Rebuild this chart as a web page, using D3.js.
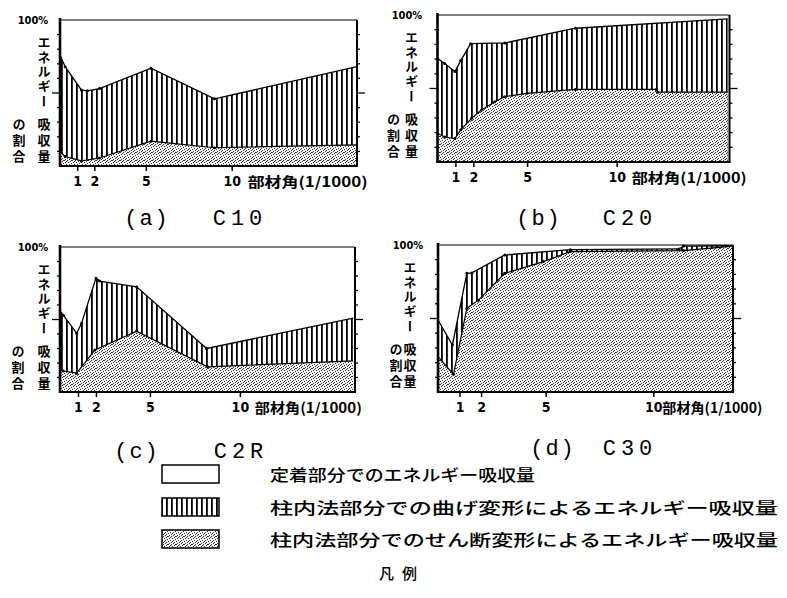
<!DOCTYPE html>
<html><head><meta charset="utf-8">
<script src="https://cdn.jsdelivr.net/npm/d3@7"></script>
<style>body{margin:0;background:#fff}svg{display:block}</style>
</head><body>
<svg id="chart" width="787" height="598"></svg>
<script>
// ---------------- data ----------------
const specimens   = ["C10", "C20", "C2R", "C30"];
const panelTags   = ["(a)", "(b)", "(c)", "(d)"];
const xTickValues = [1, 2, 5, 10];
const yTickValues = [0, 10, 20, 30, 40, 50, 60, 70, 80, 90, 100];
const xAxisTitle  = "部材角(1/1000)";
const yTopLabel   = "100%";
const yTitleParts = ["エネルギー", "吸収量", "の割合"];
const legendLabels = [
  "定着部分でのエネルギー吸収量",
  "柱内法部分での曲げ変形によるエネルギー吸収量",
  "柱内法部分でのせん断変形によるエネルギー吸収量"
];
const legendTitle = "凡例";
const xMax = [17.3, 16.3, 16.4, 13.7];

// top of bending band (shear + bending), % of total energy
const c10TotalX = [0, 0.3, 1.25, 1.6, 2.3, 5.3, 9.0, 17.3];
const c10Total  = [76, 68, 52, 51.5, 53, 67, 46, 68];
// top of shear band, %
const c10ShearX = [0, 0.3, 1.25, 2.3, 5.3, 9.0, 17.3];
const c10Shear  = [10, 6.5, 3.5, 5.5, 17, 12.5, 14.5];

const c20TotalX = [0, 0.4, 0.97, 1.3, 1.85, 3.75, 7.7, 16.2];
const c20Total  = [70.5, 67, 61.5, 69, 80.5, 81, 91, 97.3];
const c20ShearX = [0, 0.4, 0.97, 1.3, 1.9, 2.45, 3.2, 3.75, 5.0, 7.7, 12.2, 12.3, 16.2];
const c20Shear  = [19.5, 17, 16, 22, 29.7, 35.4, 41, 44.4, 46.7, 49.4, 49.4, 47.5, 47.5];

const c2rTotalX = [0, 0.18, 0.93, 1.2, 2.0, 2.2, 4.26, 8.15, 16.3];
const c2rTotal  = [56, 53, 40.5, 47.5, 78.5, 76.5, 72.5, 30, 51];
const c2rShearX = [0, 0.18, 0.93, 1.94, 4.26, 8.2, 16.3];
const c2rShear  = [15, 14.5, 13, 29, 42, 17.4, 21.4];

const c30TotalX = [0, 0.67, 1.34, 1.57, 3.1, 6.14, 11.2, 11.4, 13.7];
const c30Total  = [49, 32, 80.7, 81, 93.2, 96.8, 97.3, 99.3, 99.5];
const c30ShearX = [0, 0.72, 1.34, 1.88, 3.1, 4.9, 6.14, 11.4, 13.7];
const c30Shear  = [24, 12, 57, 62.5, 80.7, 88.7, 95.5, 96.2, 99.3];

const seriesTable = [
  {tx: c10TotalX, t: c10Total, sx: c10ShearX, s: c10Shear},
  {tx: c20TotalX, t: c20Total, sx: c20ShearX, s: c20Shear},
  {tx: c2rTotalX, t: c2rTotal, sx: c2rShearX, s: c2rShear},
  {tx: c30TotalX, t: c30Total, sx: c30ShearX, s: c30Shear}
];

// ---------------- layout ----------------
const frames = [
  {l: 60,    r: 357,   t: 20,  b: 166, yl: -16, ys: -41, pct: 33,  tag: 147, name: 240, tb: 225, xt: 16, xtl: 120},
  {l: 437.5, r: 729.5, t: 15,  b: 162, yl: -26, ys: -44, pct: 407, tag: 539, name: 630, tb: 225, xt: 15, xtl: 115},
  {l: 60,    r: 355,   t: 247, b: 392, yl: -16, ys: -42, pct: 33,  tag: 137, name: 241, tb: 458, xt: 15, xtl: 107},
  {l: 438,   r: 733,   t: 245, b: 392, yl: -28, ys: -42, pct: 408, tag: 553, name: 630, tb: 455, xt: 9,  xtl: 100}
];
// [column (0 = main, 1 = sub), first-char centre offset from frame top, pitch]
const yTitleLayout = [[0, 22, 14.75], [0, 104, 16], [1, 104, 16]];

const svg = d3.select("#chart");
const defs = svg.append("defs");
const hatch = defs.append("pattern").attr("id", "hatch").attr("patternUnits", "userSpaceOnUse")
  .attr("width", 5).attr("height", 10);
hatch.append("rect").attr("width", 5).attr("height", 10).attr("fill", "#fff");
hatch.append("rect").attr("x", 1).attr("width", 1.8).attr("height", 10).attr("fill", "#000");

const stip = defs.append("pattern").attr("id", "stip").attr("patternUnits", "userSpaceOnUse")
  .attr("width", 8).attr("height", 8);
stip.append("rect").attr("width", 8).attr("height", 8).attr("fill", "#f4f4f4");
[[0,0],[3,0],[6,1],[1,2],[4,2],[7,3],[2,4],[5,4],[0,5],[3,6],[6,6],[1,7],[5,7],[7,0],[4,5],[2,1]].forEach(p =>
  stip.append("rect").attr("x", p[0]).attr("y", p[1]).attr("width", 1).attr("height", 1).attr("fill", "#333"));

const cjk = "'Noto Sans CJK JP', 'Noto Sans CJK SC', sans-serif";
const FS = 13;

frames.forEach((f, i) => {
  const g = svg.append("g");
  const x = d3.scaleLinear().domain([0, xMax[i]]).range([f.l, f.r]);
  const y = d3.scaleLinear().domain([0, 100]).range([f.b, f.t]);
  const S = seriesTable[i];
  const tot = S.tx.map((v, k) => [v, S.t[k]]);
  const sh  = S.sx.map((v, k) => [v, S.s[k]]);
  const area = d3.area().x(d => x(d[0])).y0(y(0)).y1(d => y(d[1]));
  const line = d3.line().x(d => x(d[0])).y(d => y(d[1]));

  g.append("path").attr("d", area(tot)).attr("fill", "url(#hatch)");
  g.append("path").attr("d", area(sh)).attr("fill", "url(#stip)");
  g.append("path").attr("d", line(tot)).attr("fill", "none").attr("stroke", "#000").attr("stroke-width", 1.3);
  g.append("path").attr("d", line(sh)).attr("fill", "none").attr("stroke", "#000").attr("stroke-width", 1.2);
  g.selectAll(".pt").data(tot.slice(1, -1).concat(sh.slice(1, -1))).join("circle")
    .attr("cx", d => x(d[0])).attr("cy", d => y(d[1])).attr("r", 1.5).attr("fill", "#000");

  // frame
  g.append("line").attr("x1", f.l).attr("x2", f.r).attr("y1", f.t).attr("y2", f.t)
    .attr("stroke", "#000").attr("stroke-width", 1.2);
  g.append("line").attr("x1", f.r).attr("x2", f.r).attr("y1", f.t).attr("y2", f.b)
    .attr("stroke", "#000").attr("stroke-width", 2);
  g.append("line").attr("x1", f.l).attr("x2", f.l).attr("y1", f.t - 2).attr("y2", f.b + 1)
    .attr("stroke", "#000").attr("stroke-width", 2.6);

  // y ticks left / right
  yTickValues.slice(1, -1).forEach(v => {
    const L = v === 50 ? 8 : 3;
    g.append("line").attr("x1", f.l - L).attr("x2", f.l + 1).attr("y1", y(v)).attr("y2", y(v))
      .attr("stroke", "#000").attr("stroke-width", 1.3);
    g.append("line").attr("x1", f.r).attr("x2", f.r + L).attr("y1", y(v)).attr("y2", y(v))
      .attr("stroke", "#000").attr("stroke-width", 1.3);
  });

  // x axis
  const ax = g.append("g").attr("transform", `translate(0,${f.b})`)
    .call(d3.axisBottom(x).tickValues(xTickValues).tickSize(5).tickPadding(5).tickFormat(d3.format("d")));
  ax.select(".domain").remove();
  ax.selectAll(".tick line").attr("stroke-width", 1.5);
  ax.selectAll(".tick text").attr("font-family", "'DejaVu Sans Condensed','DejaVu Sans',sans-serif")
    .attr("font-weight", "bold").attr("font-size", 14).attr("fill", "#000");
  g.append("line").attr("x1", f.l - 1).attr("x2", f.r + 1).attr("y1", f.b).attr("y2", f.b)
    .attr("stroke", "#000").attr("stroke-width", 2.2);

  g.append("text").attr("x", x(10) + f.xt).attr("y", f.b + 21)
    .attr("font-family", cjk).attr("font-weight", "bold").attr("font-size", 14)
    .attr("textLength", f.xtl).attr("lengthAdjust", "spacingAndGlyphs").text(xAxisTitle);

  // y labels
  g.append("text").attr("x", f.pct).attr("y", f.t + 4).attr("text-anchor", "middle")
    .attr("font-family", "'DejaVu Sans Condensed','DejaVu Sans',sans-serif").attr("font-weight", "bold")
    .attr("font-size", 11).text(yTopLabel);
  yTitleParts.forEach((s, k) => {
    const [col, off, pitch] = yTitleLayout[k];
    g.append("text")
      .attr("x", f.l + (col === 0 ? f.yl : f.ys))
      .attr("y", f.t + off - FS / 2)
      .style("writing-mode", "vertical-rl")
      .attr("letter-spacing", pitch - FS)
      .attr("font-family", cjk).attr("font-weight", "bold").attr("font-size", FS)
      .text(s);
  });

  // titles
  g.append("text").attr("x", f.tag).attr("y", f.tb).attr("text-anchor", "middle")
    .attr("font-family", "'Liberation Mono','DejaVu Sans Mono',monospace").attr("font-size", 22)
    .attr("letter-spacing", 2).text(panelTags[i]);
  g.append("text").attr("x", f.name).attr("y", f.tb).attr("text-anchor", "middle")
    .attr("font-family", "'Liberation Mono','DejaVu Sans Mono',monospace").attr("font-size", 22)
    .attr("letter-spacing", 5).text(specimens[i]);
});

// ---------------- legend ----------------
const legendRows = [474, 507, 539];
const legendFills = ["#fff", "url(#hatch)", "url(#stip)"];
const legendLens = [265, 508, 508];
legendRows.forEach((cy, k) => {
  svg.append("rect").attr("x", 162).attr("y", cy - 9).attr("width", 57).attr("height", 18)
    .attr("fill", legendFills[k]).attr("stroke", "#000").attr("stroke-width", 1.5);
  svg.append("text").attr("x", 270).attr("y", cy).attr("dominant-baseline", "central")
    .attr("font-family", cjk).attr("font-weight", 500).attr("font-size", 16)
    .attr("textLength", legendLens[k]).attr("lengthAdjust", "spacingAndGlyphs").text(legendLabels[k]);
});
svg.append("text").attr("x", 402).attr("y", 572).attr("text-anchor", "middle").attr("dominant-baseline", "central")
  .attr("font-family", cjk).attr("font-weight", 500).attr("font-size", 15).attr("letter-spacing", 8)
  .text(legendTitle);
</script>
</body></html>
